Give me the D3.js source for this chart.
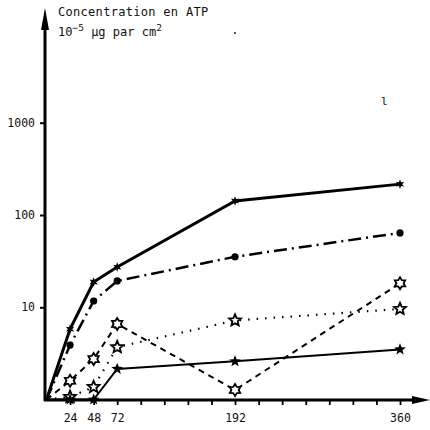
<!DOCTYPE html>
<html><head><meta charset="utf-8">
<script src="https://cdn.jsdelivr.net/npm/d3@7"></script>
<style>
html,body{margin:0;padding:0;background:#fff;}
svg{display:block;}
text{font-family:"DejaVu Sans Mono",monospace;fill:#111;}
</style></head>
<body>
<svg id="c" width="430" height="430"></svg>
<script>
const times = [0, 24, 48, 72, 192, 360];
const seriesA = [1, 5.8, 18.8, 27.3, 142, 216];
const seriesB = [1, 3.9, 11.7, 19.3, 35.3, 64];
const seriesC = [1, 1.6, 2.75, 6.6, 1.27, 18.2];
const seriesD = [1, 1.07, 1.37, 3.7, 7.2, 9.6];
const seriesE = [1, 1, 1, 2.15, 2.6, 3.5];
const xTickValues = [24, 48, 72, 96, 120, 144, 168, 192, 216, 240, 264, 288, 312, 336, 360];
const xTickLabels = [24, 48, 72, 192, 360];
const yTickValues = [10, 100, 1000];
const titleLine1 = "Concentration en ATP";

const svg = d3.select("#c");
const x = d3.scaleLinear().domain([0, 360]).range([46.5, 400]);
const y = d3.scaleLog().domain([1, 10000]).range([399.6, 30.4]);

// axes lines with arrows
svg.append("line").attr("x1", 45).attr("y1", 401).attr("x2", 45).attr("y2", 22)
  .attr("stroke", "#000").attr("stroke-width", 3);
svg.append("path").attr("d", "M45,8 L41,30 L49,30 Z").attr("fill", "#000");
svg.append("line").attr("x1", 44).attr("y1", 400).attr("x2", 418).attr("y2", 400)
  .attr("stroke", "#000").attr("stroke-width", 3);
svg.append("path").attr("d", "M430,400 L412,396 L412,404 Z").attr("fill", "#000");

// x axis ticks
const xAxis = d3.axisBottom(x).tickValues(xTickValues).tickSize(5).tickPadding(9)
  .tickFormat(d => xTickLabels.includes(d) ? String(d) : "");
const gx = svg.append("g").attr("transform", "translate(0,400)").call(xAxis);
gx.select(".domain").remove();
gx.selectAll(".tick line").attr("stroke", "#000").attr("stroke-width", 1.8);
gx.selectAll(".tick text").attr("font-size", 11.5).attr("fill", "#111")
  .attr("font-family", "DejaVu Sans Mono");

// y axis ticks
const yAxis = d3.axisLeft(y).tickValues(yTickValues).tickSize(5).tickPadding(5)
  .tickFormat(d3.format("d"));
const gy = svg.append("g").attr("transform", "translate(45,0)").call(yAxis);
gy.select(".domain").remove();
gy.selectAll(".tick line").attr("stroke", "#000").attr("stroke-width", 2);
gy.selectAll(".tick text").attr("font-size", 11.5).attr("fill", "#111")
  .attr("font-family", "DejaVu Sans Mono");

// title
svg.append("text").attr("x", 58).attr("y", 16).attr("font-size", 12)
  .attr("letter-spacing", 0.3).text(titleLine1);
const t2 = svg.append("text").attr("x", 58).attr("y", 36).attr("font-size", 12);
t2.append("tspan").text("10");
t2.append("tspan").attr("dy", -5).attr("font-size", 9.5).text("\u22125");
t2.append("tspan").attr("dy", 5).text(" \u00b5g par cm");
t2.append("tspan").attr("dy", -5).attr("font-size", 9.5).text("2");
svg.append("circle").attr("cx", 235).attr("cy", 33).attr("r", 1).attr("fill", "#222");
svg.append("text").attr("x", 381).attr("y", 105).attr("font-size", 11).text("l");

// lines
const line = d3.line().x((d, i) => x(times[i])).y(d => y(d));
const series = [
  {v: seriesA, w: 3, dash: null},
  {v: seriesB, w: 2.5, dash: "13,5,2,5"},
  {v: seriesC, w: 2, dash: "6,5"},
  {v: seriesD, w: 2.2, dash: "1.5,7"},
  {v: seriesE, w: 2, dash: null}
];
series.forEach(s => {
  svg.append("path").datum(s.v).attr("d", line).attr("fill", "none")
    .attr("stroke", "#000").attr("stroke-width", s.w)
    .attr("stroke-dasharray", s.dash).attr("stroke-linecap", "butt");
});

// markers
function starPath(n, ro, ri) {
  const p = d3.path();
  for (let k = 0; k < 2 * n; k++) {
    const r = k % 2 === 0 ? ro : ri;
    const a = -Math.PI / 2 + k * Math.PI / n;
    const px = r * Math.cos(a), py = r * Math.sin(a);
    if (k === 0) p.moveTo(px, py); else p.lineTo(px, py);
  }
  p.closePath();
  return p.toString();
}
const pts = (arr) => arr.map((v, i) => ({t: times[i], v})).filter(d => d.t > 0);

svg.append("g").selectAll("path").data(pts(seriesA)).join("path")
  .attr("transform", d => `translate(${x(d.t)},${y(d.v)})`)
  .attr("d", starPath(6, 4.8, 2.2)).attr("fill", "#000");
svg.append("g").selectAll("circle").data(pts(seriesB)).join("circle")
  .attr("cx", d => x(d.t)).attr("cy", d => y(d.v)).attr("r", 3.6).attr("fill", "#000");
svg.append("g").selectAll("path").data(pts(seriesC)).join("path")
  .attr("transform", d => `translate(${x(d.t)},${y(d.v)})`)
  .attr("d", starPath(6, 6, 3.6)).attr("fill", "#fff").attr("stroke", "#000").attr("stroke-width", 1.8);
svg.append("g").selectAll("path").data(pts(seriesD)).join("path")
  .attr("transform", d => `translate(${x(d.t)},${y(d.v)})`)
  .attr("d", starPath(5, 6.2, 2.8)).attr("fill", "#fff").attr("stroke", "#000").attr("stroke-width", 1.8);
svg.append("g").selectAll("path").data(pts(seriesE)).join("path")
  .attr("transform", d => `translate(${x(d.t)},${y(d.v)})`)
  .attr("d", starPath(5, 6.2, 2.6)).attr("fill", "#000");
</script>
</body></html>
